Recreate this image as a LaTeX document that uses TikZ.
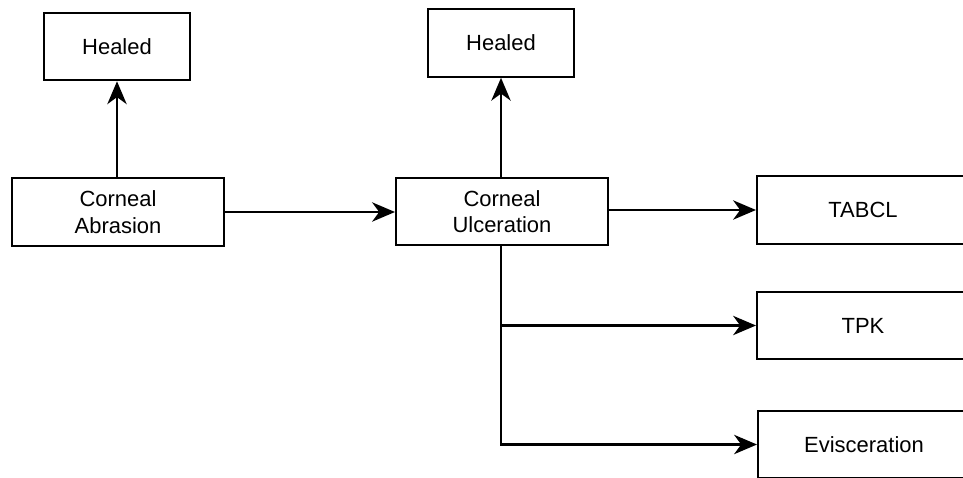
\documentclass[tikz,border=0pt]{standalone}
\usepackage{fontspec}
\setmainfont{Liberation Sans}
\usetikzlibrary{arrows.meta}

\begin{document}
\begin{tikzpicture}[x=0.02cm,y=-0.02cm,
    stagebox/.style={draw,line width=1.2pt,minimum width=4.24cm,minimum height=1.35cm,
      align=center,font=\fontsize{12.5}{15}\selectfont,inner sep=0pt},
    healbox/.style={stagebox,minimum width=2.93cm},
    flow/.style={line width=1.2pt,-{Stealth[length=13pt,width=11pt,inset=4pt]}}]
      \clip (0,0) rectangle (963,477);

      \node[healbox] (healA) at (117,46.5) {Healed};
      \node[healbox] (healU) at (501,43) {Healed};
      \node[stagebox] (abrasion) at (118,212) {Corneal\\Abrasion};
      \node[stagebox] (ulcer) at (502,211.5) {Corneal\\Ulceration};

      \node[stagebox] (tabcl) at (863,210) {TABCL};
      \node[stagebox] (tpk) at (863,325.5) {TPK};
      \node[stagebox] (evisc) at (864,444.5) {Evisceration};

      \draw[flow] (abrasion.north -| healA) -- (healA.south);
      \draw[flow] (ulcer.north -| healU) -- (healU.south);
      \draw[flow] (abrasion.east) -- (abrasion.east -| ulcer.west);
      \draw[flow] (ulcer.east |- tabcl) -- (tabcl.west);
      % branches below the ulcer
      \draw[flow] (ulcer.south -| healU) |- (tpk.west);
      \draw[flow] (ulcer.south -| healU) |- (evisc.west);
    \end{tikzpicture}
\end{document}
